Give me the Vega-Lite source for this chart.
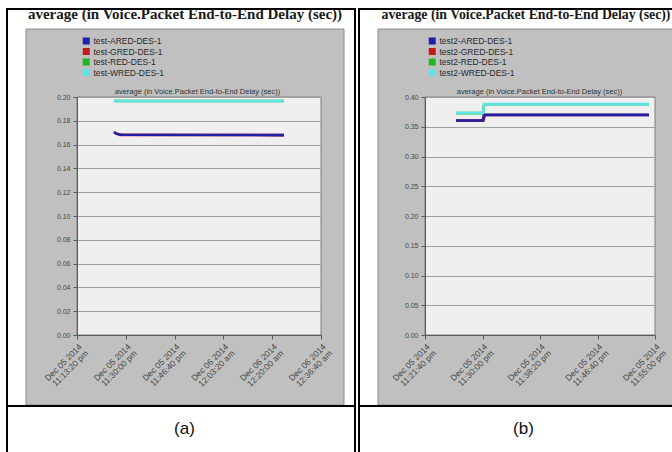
{
  "$schema": "https://vega.github.io/schema/vega-lite/v6.json",
  "background": "white",
  "padding": {"left": 5, "top": 6, "right": 0, "bottom": 0},
  "spacing": 0,
  "resolve": {"scale": {"color": "independent"}, "legend": {"color": "independent"}},
  "config": {
    "view": {"stroke": "black", "strokeWidth": 2, "fill": "white"},
    "font": "Liberation Sans",
    "title": {"font": "Liberation Serif", "fontWeight": "bold", "color": "#1a1a1a", "anchor": "middle", "frame": "group", "baseline": "alphabetic"},
    "axis": {
      "labelFont": "Liberation Sans",
      "labelColor": "#474747",
      "domainColor": "#5a5a5a",
      "tickColor": "#5a5a5a",
      "tickSize": 4,
      "labelOverlap": false,
      "labelFlush": false,
      "titleFont": "Liberation Sans",
      "titleFontWeight": "normal"
    },
    "legend": {
      "orient": "none",
      "title": null,
      "symbolType": "square",
      "symbolSize": 4,
      "symbolStrokeWidth": 5,
      "labelFont": "Liberation Sans",
      "labelFontSize": 8.5,
      "labelColor": "#2a2a2a",
      "rowPadding": 1.5,
      "clipHeight": 8,
      "padding": 0,
      "labelOffset": 3
    }
  },
  "datasets": {
    "runA": [
      {"series": "test-GRED-DES-1", "t": "2014-12-05T23:25:58Z", "v": 0.1703},
      {"series": "test-GRED-DES-1", "t": "2014-12-05T23:28:00Z", "v": 0.1682},
      {"series": "test-GRED-DES-1", "t": "2014-12-06T00:24:00Z", "v": 0.1680},
      {"series": "test-RED-DES-1", "t": "2014-12-05T23:25:58Z", "v": 0.1966},
      {"series": "test-RED-DES-1", "t": "2014-12-06T00:24:00Z", "v": 0.1966},
      {"series": "test-ARED-DES-1", "t": "2014-12-05T23:25:58Z", "v": 0.1706},
      {"series": "test-ARED-DES-1", "t": "2014-12-05T23:26:40Z", "v": 0.1692},
      {"series": "test-ARED-DES-1", "t": "2014-12-05T23:28:20Z", "v": 0.1683},
      {"series": "test-ARED-DES-1", "t": "2014-12-06T00:24:00Z", "v": 0.1680},
      {"series": "test-WRED-DES-1", "t": "2014-12-05T23:25:58Z", "v": 0.1967},
      {"series": "test-WRED-DES-1", "t": "2014-12-06T00:24:00Z", "v": 0.1967}
    ],
    "runB": [
      {"series": "test2-GRED-DES-1", "t": "2014-12-05T23:26:10Z", "v": 0.3603},
      {"series": "test2-GRED-DES-1", "t": "2014-12-05T23:30:08Z", "v": 0.3603},
      {"series": "test2-GRED-DES-1", "t": "2014-12-05T23:30:22Z", "v": 0.3698},
      {"series": "test2-GRED-DES-1", "t": "2014-12-05T23:54:08Z", "v": 0.3698},
      {"series": "test2-RED-DES-1", "t": "2014-12-05T23:26:10Z", "v": 0.3729},
      {"series": "test2-RED-DES-1", "t": "2014-12-05T23:30:04Z", "v": 0.3729},
      {"series": "test2-RED-DES-1", "t": "2014-12-05T23:30:14Z", "v": 0.3879},
      {"series": "test2-RED-DES-1", "t": "2014-12-05T23:54:08Z", "v": 0.3879},
      {"series": "test2-ARED-DES-1", "t": "2014-12-05T23:26:10Z", "v": 0.3605},
      {"series": "test2-ARED-DES-1", "t": "2014-12-05T23:30:02Z", "v": 0.3605},
      {"series": "test2-ARED-DES-1", "t": "2014-12-05T23:30:12Z", "v": 0.3700},
      {"series": "test2-ARED-DES-1", "t": "2014-12-05T23:54:08Z", "v": 0.3700},
      {"series": "test2-WRED-DES-1", "t": "2014-12-05T23:26:10Z", "v": 0.3730},
      {"series": "test2-WRED-DES-1", "t": "2014-12-05T23:30:04Z", "v": 0.3730},
      {"series": "test2-WRED-DES-1", "t": "2014-12-05T23:30:14Z", "v": 0.3880},
      {"series": "test2-WRED-DES-1", "t": "2014-12-05T23:54:08Z", "v": 0.3880}
    ]
  },
  "hconcat": [
    {
      "name": "colA",
      "width": 348,
      "height": 449,
      "title": {"text": "average (in Voice.Packet End-to-End Delay (sec))", "fontSize": 15, "offset": -13, "dx": 4},
      "resolve": {"scale": {"x": "independent", "y": "independent"}},
      "layer": [
        {
          "data": {"values": [{}]},
          "mark": {"type": "rect", "fill": "#c0c0c0", "stroke": "#8c8c8c", "strokeWidth": 1},
          "encoding": {
            "x": {"datum": 0, "type": "quantitative", "scale": {"domain": [0, 1], "range": [19, 337], "nice": false}, "axis": null},
            "x2": {"datum": 1},
            "y": {"datum": 0, "type": "quantitative", "scale": {"domain": [0, 1], "range": [396, 20], "nice": false}, "axis": null},
            "y2": {"datum": 1}
          }
        },
        {
          "data": {"values": [{}]},
          "mark": {"type": "rule", "color": "black", "strokeWidth": 2},
          "encoding": {
            "y": {"datum": 0, "type": "quantitative", "scale": {"domain": [0, 1], "range": [397, 21], "nice": false}, "axis": null}
          }
        },
        {
          "data": {"values": [{}]},
          "mark": {"type": "rect", "fill": "#efefef", "stroke": "#7e7e7e", "strokeWidth": 1},
          "encoding": {
            "x": {"datum": {"year": 2014, "month": 12, "date": 5, "hours": 23, "minutes": 13, "seconds": 20, "utc": true}, "type": "temporal",
                  "scale": {"type": "utc", "domain": [{"year": 2014, "month": 12, "date": 5, "hours": 23, "minutes": 13, "seconds": 20, "utc": true}, {"year": 2014, "month": 12, "date": 6, "hours": 0, "minutes": 36, "seconds": 40, "utc": true}], "range": [70, 314], "nice": false}, "axis": null},
            "x2": {"datum": {"year": 2014, "month": 12, "date": 6, "hours": 0, "minutes": 36, "seconds": 40, "utc": true}},
            "y": {"datum": 0, "type": "quantitative", "scale": {"domain": [0, 0.2], "range": [326, 88], "nice": false, "zero": false}, "axis": null},
            "y2": {"datum": 0.2}
          }
        },
        {
          "data": {"name": "runA"},
          "mark": {"type": "line", "strokeWidth": 2.6},
          "encoding": {
            "x": {
              "field": "t", "type": "temporal",
              "scale": {"type": "utc", "domain": [{"year": 2014, "month": 12, "date": 5, "hours": 23, "minutes": 13, "seconds": 20, "utc": true}, {"year": 2014, "month": 12, "date": 6, "hours": 0, "minutes": 36, "seconds": 40, "utc": true}], "range": [70, 314], "nice": false},
              "axis": {
                "orient": "bottom", "offset": -123, "grid": false, "zindex": 1,
                "values": [
                  {"year": 2014, "month": 12, "date": 5, "hours": 23, "minutes": 13, "seconds": 20, "utc": true},
                  {"year": 2014, "month": 12, "date": 5, "hours": 23, "minutes": 30, "seconds": 0, "utc": true},
                  {"year": 2014, "month": 12, "date": 5, "hours": 23, "minutes": 46, "seconds": 40, "utc": true},
                  {"year": 2014, "month": 12, "date": 6, "hours": 0, "minutes": 3, "seconds": 20, "utc": true},
                  {"year": 2014, "month": 12, "date": 6, "hours": 0, "minutes": 20, "seconds": 0, "utc": true},
                  {"year": 2014, "month": 12, "date": 6, "hours": 0, "minutes": 36, "seconds": 40, "utc": true}
                ],
                "labelExpr": "[utcFormat(datum.value, '%b %d %Y'), lower(utcFormat(datum.value, '%I:%M:%S %p'))]",
                "labelAngle": -45, "labelAlign": "right", "labelBaseline": "top", "labelPadding": 3,
                "labelFontSize": 8.5, "labelLineHeight": 9,
                "title": "(a)", "titleFontSize": 17, "titleColor": "#111111",
                "titleX": 177, "titleY": 93, "titleAlign": "center", "titleBaseline": "middle"
              }
            },
            "y": {
              "field": "v", "type": "quantitative",
              "scale": {"domain": [0, 0.2], "range": [326, 88], "nice": false, "zero": false},
              "axis": {
                "orient": "left", "offset": -70, "zindex": 1,
                "values": [0, 0.02, 0.04, 0.06, 0.08, 0.1, 0.12, 0.14, 0.16, 0.18, 0.2],
                "format": ".2f", "labelFontSize": 7, "labelPadding": 3,
                "grid": true, "gridColor": "#a0a0a0", "gridWidth": 1,
                "title": "average (in Voice.Packet End-to-End Delay (sec))",
                "titleAngle": 0, "titleFontSize": 7.5, "titleColor": "#333333",
                "titleX": 120, "titleY": 82, "titleAlign": "center", "titleBaseline": "middle"
              }
            },
            "color": {
              "field": "series", "type": "nominal",
              "scale": {"domain": ["test-ARED-DES-1", "test-GRED-DES-1", "test-RED-DES-1", "test-WRED-DES-1"], "range": ["#1f1fa8", "#c41a1a", "#22b422", "#5ee4e4"]},
              "legend": {"legendX": 75, "legendY": 28}
            }
          }
        }
      ]
    },
    {
      "name": "colB",
      "width": 322,
      "height": 449,
      "title": {"text": "average (in Voice.Packet End-to-End Delay (sec))", "fontSize": 13.8, "offset": -13, "dx": 6},
      "resolve": {"scale": {"x": "independent", "y": "independent"}},
      "layer": [
        {
          "data": {"values": [{}]},
          "mark": {"type": "rect", "fill": "#c0c0c0", "stroke": "#8c8c8c", "strokeWidth": 1},
          "encoding": {
            "x": {"datum": 0, "type": "quantitative", "scale": {"domain": [0, 1], "range": [19, 316], "nice": false}, "axis": null},
            "x2": {"datum": 1},
            "y": {"datum": 0, "type": "quantitative", "scale": {"domain": [0, 1], "range": [396, 20], "nice": false}, "axis": null},
            "y2": {"datum": 1}
          }
        },
        {
          "data": {"values": [{}]},
          "mark": {"type": "rule", "color": "black", "strokeWidth": 2},
          "encoding": {
            "y": {"datum": 0, "type": "quantitative", "scale": {"domain": [0, 1], "range": [397, 21], "nice": false}, "axis": null}
          }
        },
        {
          "data": {"values": [{}]},
          "mark": {"type": "rect", "fill": "#efefef", "stroke": "#7e7e7e", "strokeWidth": 1},
          "encoding": {
            "x": {"datum": {"year": 2014, "month": 12, "date": 5, "hours": 23, "minutes": 21, "seconds": 40, "utc": true}, "type": "temporal",
                  "scale": {"type": "utc", "domain": [{"year": 2014, "month": 12, "date": 5, "hours": 23, "minutes": 21, "seconds": 40, "utc": true}, {"year": 2014, "month": 12, "date": 5, "hours": 23, "minutes": 55, "seconds": 0, "utc": true}], "range": [66, 296], "nice": false}, "axis": null},
            "x2": {"datum": {"year": 2014, "month": 12, "date": 5, "hours": 23, "minutes": 55, "seconds": 0, "utc": true}},
            "y": {"datum": 0, "type": "quantitative", "scale": {"domain": [0, 0.4], "range": [326, 88], "nice": false, "zero": false}, "axis": null},
            "y2": {"datum": 0.4}
          }
        },
        {
          "data": {"name": "runB"},
          "mark": {"type": "line", "strokeWidth": 2.6},
          "encoding": {
            "x": {
              "field": "t", "type": "temporal",
              "scale": {"type": "utc", "domain": [{"year": 2014, "month": 12, "date": 5, "hours": 23, "minutes": 21, "seconds": 40, "utc": true}, {"year": 2014, "month": 12, "date": 5, "hours": 23, "minutes": 55, "seconds": 0, "utc": true}], "range": [66, 296], "nice": false},
              "axis": {
                "orient": "bottom", "offset": -123, "grid": false, "zindex": 1,
                "values": [
                  {"year": 2014, "month": 12, "date": 5, "hours": 23, "minutes": 21, "seconds": 40, "utc": true},
                  {"year": 2014, "month": 12, "date": 5, "hours": 23, "minutes": 30, "seconds": 0, "utc": true},
                  {"year": 2014, "month": 12, "date": 5, "hours": 23, "minutes": 38, "seconds": 20, "utc": true},
                  {"year": 2014, "month": 12, "date": 5, "hours": 23, "minutes": 46, "seconds": 40, "utc": true},
                  {"year": 2014, "month": 12, "date": 5, "hours": 23, "minutes": 55, "seconds": 0, "utc": true}
                ],
                "labelExpr": "[utcFormat(datum.value, '%b %d %Y'), lower(utcFormat(datum.value, '%I:%M:%S %p'))]",
                "labelAngle": -45, "labelAlign": "right", "labelBaseline": "top", "labelPadding": 3,
                "labelFontSize": 8.5, "labelLineHeight": 9,
                "title": "(b)", "titleFontSize": 17, "titleColor": "#111111",
                "titleX": 164, "titleY": 93, "titleAlign": "center", "titleBaseline": "middle"
              }
            },
            "y": {
              "field": "v", "type": "quantitative",
              "scale": {"domain": [0, 0.4], "range": [326, 88], "nice": false, "zero": false},
              "axis": {
                "orient": "left", "offset": -66, "zindex": 1,
                "values": [0, 0.05, 0.1, 0.15, 0.2, 0.25, 0.3, 0.35, 0.4],
                "format": ".2f", "labelFontSize": 7, "labelPadding": 3,
                "grid": true, "gridColor": "#a0a0a0", "gridWidth": 1,
                "title": "average (in Voice.Packet End-to-End Delay (sec))",
                "titleAngle": 0, "titleFontSize": 7.5, "titleColor": "#333333",
                "titleX": 114, "titleY": 82, "titleAlign": "center", "titleBaseline": "middle"
              }
            },
            "color": {
              "field": "series", "type": "nominal",
              "scale": {"domain": ["test2-ARED-DES-1", "test2-GRED-DES-1", "test2-RED-DES-1", "test2-WRED-DES-1"], "range": ["#1f1fa8", "#c41a1a", "#22b422", "#5ee4e4"]},
              "legend": {"legendX": 69, "legendY": 28}
            }
          }
        }
      ]
    }
  ]
}
